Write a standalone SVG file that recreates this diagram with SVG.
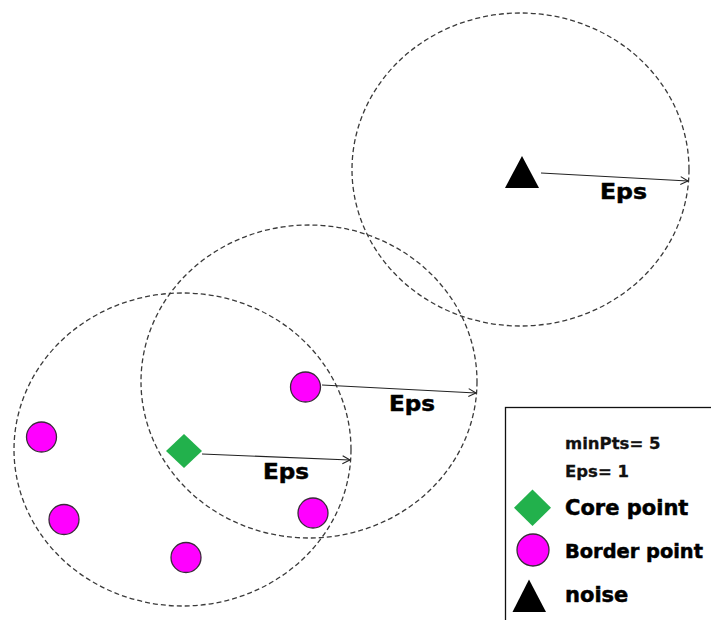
<svg xmlns="http://www.w3.org/2000/svg" width="711" height="620" viewBox="0 0 711 620">
<style>
.rng{fill:none;stroke:#3a3a3a;stroke-width:1.3;stroke-dasharray:5 3}
.bp{fill:#FF00FF;stroke:#3a2a3a;stroke-width:1.3}
.cp{fill:#22B14C}
.nz{fill:#000}
.arr{fill:none;stroke:#222;stroke-width:1.1;marker-end:url(#ah)}
.lbl{font-family:"DejaVu Sans",sans-serif;font-weight:bold;font-size:21px;fill:#000;stroke:#000;stroke-width:0.5}
.small{font-family:"DejaVu Sans",sans-serif;font-weight:bold;font-size:16.5px;fill:#111;stroke:#111;stroke-width:0.3}
.big{font-family:"DejaVu Sans",sans-serif;font-weight:bold;font-size:21px;fill:#000;stroke:#000;stroke-width:0.5}
</style>
<defs>
<marker id="ah" markerWidth="10" markerHeight="10" refX="8" refY="5" orient="auto" markerUnits="userSpaceOnUse">
<path d="M0.5,1 L8,5 L0.5,9" fill="none" stroke="#222" stroke-width="1.1"/>
</marker>
</defs>
<rect width="711" height="620" fill="#fff"/>
<g id="ranges">
<ellipse class="rng" cx="520.5" cy="169.5" rx="168.5" ry="156.5"/>
<ellipse class="rng" cx="309" cy="381.5" rx="168" ry="156.5"/>
<ellipse class="rng" cx="182.5" cy="449.5" rx="168.5" ry="156.5"/>
</g>
<g id="connectors">
<line class="arr" x1="541" y1="173" x2="688" y2="181"/>
<line class="arr" x1="322" y1="385" x2="476" y2="393"/>
<line class="arr" x1="202" y1="454" x2="350" y2="460"/>
</g>
<g id="noise-point"><polygon class="nz" points="522,156 505,188 539,188"/></g>
<g id="core-point"><polygon class="cp" points="184,434 202,451 184,468 166,451"/></g>
<g id="border-1"><circle class="bp" cx="305.5" cy="387" r="15"/></g>
<g id="border-2"><circle class="bp" cx="41.5" cy="437" r="15"/></g>
<g id="border-3"><circle class="bp" cx="64" cy="519.5" r="15"/></g>
<g id="border-4"><circle class="bp" cx="186" cy="557.5" r="15"/></g>
<g id="border-5"><circle class="bp" cx="313" cy="513" r="15"/></g>
<g id="labels">
<text class="lbl" x="600" y="199" textLength="47" lengthAdjust="spacingAndGlyphs">Eps</text>
<text class="lbl" x="389" y="411" textLength="46" lengthAdjust="spacingAndGlyphs">Eps</text>
<text class="lbl" x="263" y="479" textLength="46" lengthAdjust="spacingAndGlyphs">Eps</text>
</g>
<g id="legend">
<rect x="505.5" y="407.5" width="230" height="230" fill="none" stroke="#111" stroke-width="1.3"/>
<text class="small" x="565" y="448.5">minPts= 5</text>
<text class="small" x="565" y="477">Eps= 1</text>
<polygon class="cp" points="532.5,489.5 551,507.8 532.5,526 514,507.8"/>
<text class="big" x="565" y="515">Core point</text>
<circle class="bp" cx="533" cy="550" r="16"/>
<text class="big" x="565" y="557.5" style="font-size:19.4px">Border point</text>
<polygon class="nz" points="529,579.5 512.5,612 546,612"/>
<text class="big" x="565" y="602">noise</text>
</g>
</svg>
